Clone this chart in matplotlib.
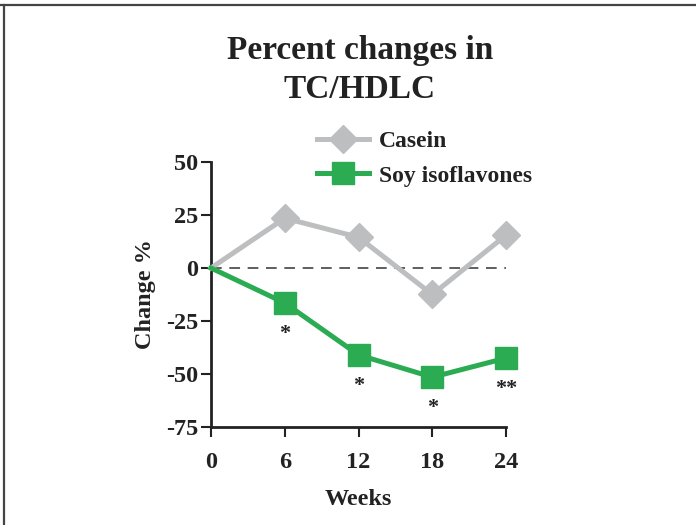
import matplotlib.pyplot as plt
from matplotlib.lines import Line2D

# data
weeks = [0, 6, 12, 18, 24]
casein = [0, 23.5, 14.5, -12.5, 15.5]
soy = [0, -16.5, -41, -51.5, -42.5]
soy_marks = ["", "*", "*", "*", "**"]
y_ticks = [-75, -50, -25, 0, 25, 50]

green = "#2BAB52"
grey = "#BDBEC0"
plt.rcParams['font.family'] = ['Liberation Serif', 'DejaVu Serif']
plt.rcParams['font.weight'] = 'bold'

fig = plt.figure(figsize=(6.96, 5.25), dpi=100)
ax = fig.add_axes([0.3032, 0.1867, 0.4239, 0.5047])

# frame lines around the panel (top and left)
fig.add_artist(Line2D([0, 1], [0.991, 0.991], color="#444444", lw=1.6, transform=fig.transFigure))
fig.add_artist(Line2D([0.006, 0.006], [0, 0.991], color="#444444", lw=1.6, transform=fig.transFigure))

ax.axhline(0, color="#333333", lw=1.1, dashes=(7, 5), zorder=1)
ax.plot(weeks, casein, color=grey, lw=3.6, marker="D", ms=14, markevery=[1, 2, 3, 4],
        clip_on=False, zorder=3, label="Casein")
ax.plot(weeks, soy, color=green, lw=3.6, marker="s", ms=15.5, markevery=[1, 2, 3, 4],
        clip_on=False, zorder=4, label="Soy isoflavones")

for x, y, m in zip(weeks, soy, soy_marks):
    if m:
        ax.annotate(m, (x, y), xytext=(0, -15), textcoords="offset points",
                    ha="center", va="top", fontsize=16, fontweight="bold", color="#222222")

ax.set_xlim(0, 24)
ax.set_ylim(-75, 50)
ax.set_xticks(weeks)
ax.set_yticks(y_ticks)
ax.set_xticklabels([str(w) for w in weeks])
ax.set_yticklabels([str(t) for t in y_ticks])
for side in ["top", "right"]:
    ax.spines[side].set_visible(False)
for side in ["left", "bottom"]:
    ax.spines[side].set_linewidth(2)
    ax.spines[side].set_color("#222222")
ax.tick_params(axis="both", length=7, width=1.5, color="#222222", labelsize=17.5, labelcolor="#222222")
ax.tick_params(axis="x", pad=11)
ax.tick_params(axis="y", pad=2)
for lbl in ax.get_xticklabels() + ax.get_yticklabels():
    lbl.set_fontweight("bold")

ax.set_xlabel("Weeks", fontsize=17.5, fontweight="bold", color="#222222")
ax.xaxis.set_label_coords(0.5, -0.235)
ax.set_ylabel("Change %", fontsize=17.5, fontweight="bold", color="#222222")
ax.yaxis.set_label_coords(-0.185, 0.5)

fig.text(0.517, 0.867, "Percent changes in\nTC/HDLC", ha="center", va="center",
         fontsize=24, fontweight="bold", color="#222222", linespacing=1.35)

leg = ax.legend(loc="center left", bbox_to_anchor=(0.36, 1.013), frameon=False,
                fontsize=17, handlelength=2.2, handletextpad=0.4, labelspacing=0.55,
                borderpad=0, borderaxespad=0)
for t in leg.get_texts():
    t.set_color("#222222")

fig.savefig("out.png", dpi=100)
